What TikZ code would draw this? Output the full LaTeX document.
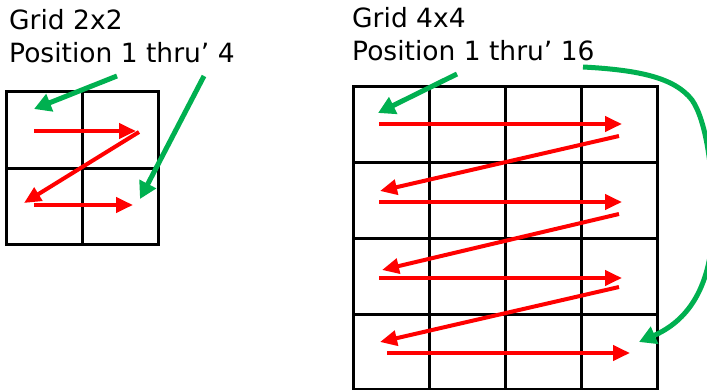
\documentclass[tikz,border=0pt]{standalone}
\usepackage{fontspec}
\setmainfont{DejaVu Sans}
\usetikzlibrary{arrows.meta}
\tikzset{
  gridline/.style={draw=black,line width=3pt},
  redarrow/.style={draw={rgb,255:red,255;green,0;blue,0},line width=4pt,-{Triangle[length=17pt,width=15pt]}},
  greenarrow/.style={draw={rgb,255:red,0;green,176;blue,80},line width=5pt,-{Triangle[length=17pt,width=18pt]}},
  lbl/.style={anchor=base west,inner sep=0pt,font=\fontsize{26.5}{30}\selectfont}
}
\begin{document}
\begin{tikzpicture}[x=1pt,y=-1pt]
\useasboundingbox (0,0) rectangle (707,390);
% labels
\node[lbl] (t1) at (9,30) {Grid 2x2};
\node[lbl] (t2) at (9,63) {Position 1 thru’ 4};
\node[lbl] (t3) at (352,28) {Grid 4x4};
\node[lbl] (t4) at (352,61) {Position 1 thru’ 16};
% small grid
\draw[gridline] (6,92) rectangle (158,245);
\draw[gridline] (82,92) -- (82,245);
\draw[gridline] (6,169) -- (158,169);
% big grid
\draw[gridline] (353,87) rectangle (657,389);
\foreach \x in {429,505,581} \draw[gridline] (\x,87) -- (\x,389);
\foreach \y in {163,239,314} \draw[gridline] (353,\y) -- (657,\y);
% small red arrows
\coordinate (s1a) at (34,131); \coordinate (s1b) at (136,131);
\coordinate (s2a) at (139,132); \coordinate (s2b) at (24,203);
\coordinate (s3a) at (34,205); \coordinate (s3b) at (133,205);
\draw[redarrow] (s1a) -- (s1b);
\draw[redarrow] (s2a) -- (s2b);
\draw[redarrow] (s3a) -- (s3b);
% small green arrows
\coordinate (g1a) at (117,76); \coordinate (g1b) at (34,109);
\coordinate (g2a) at (204,76); \coordinate (g2b) at (140,199);
\draw[greenarrow] (g1a) -- (g1b);
\draw[greenarrow] (g2a) -- (g2b);
% big red arrows
\coordinate (b1a) at (379,124); \coordinate (b1b) at (622,124);
\coordinate (b2a) at (619,136); \coordinate (b2b) at (380,191);
\coordinate (b3a) at (379,202); \coordinate (b3b) at (622,202);
\coordinate (b4a) at (619,214); \coordinate (b4b) at (382,270);
\coordinate (b5a) at (379,278); \coordinate (b5b) at (622,278);
\coordinate (b6a) at (619,287); \coordinate (b6b) at (380,342);
\coordinate (b7a) at (387,353); \coordinate (b7b) at (630,353);
\foreach \n in {1,...,7} \draw[redarrow] (b\n a) -- (b\n b);
% big green arrows
\coordinate (g3a) at (457,74); \coordinate (g3b) at (378,113);
\draw[greenarrow] (g3a) -- (g3b);
\coordinate (g4a) at (583,67); \coordinate (g4b) at (639,342);
\draw[greenarrow] (g4a) .. controls (640,70) and (675,78) .. (692,100)
  .. controls (706,120) and (713,170) .. (713,215)
  .. controls (714,290) and (685,322) .. (g4b);
\end{tikzpicture}
\end{document}
